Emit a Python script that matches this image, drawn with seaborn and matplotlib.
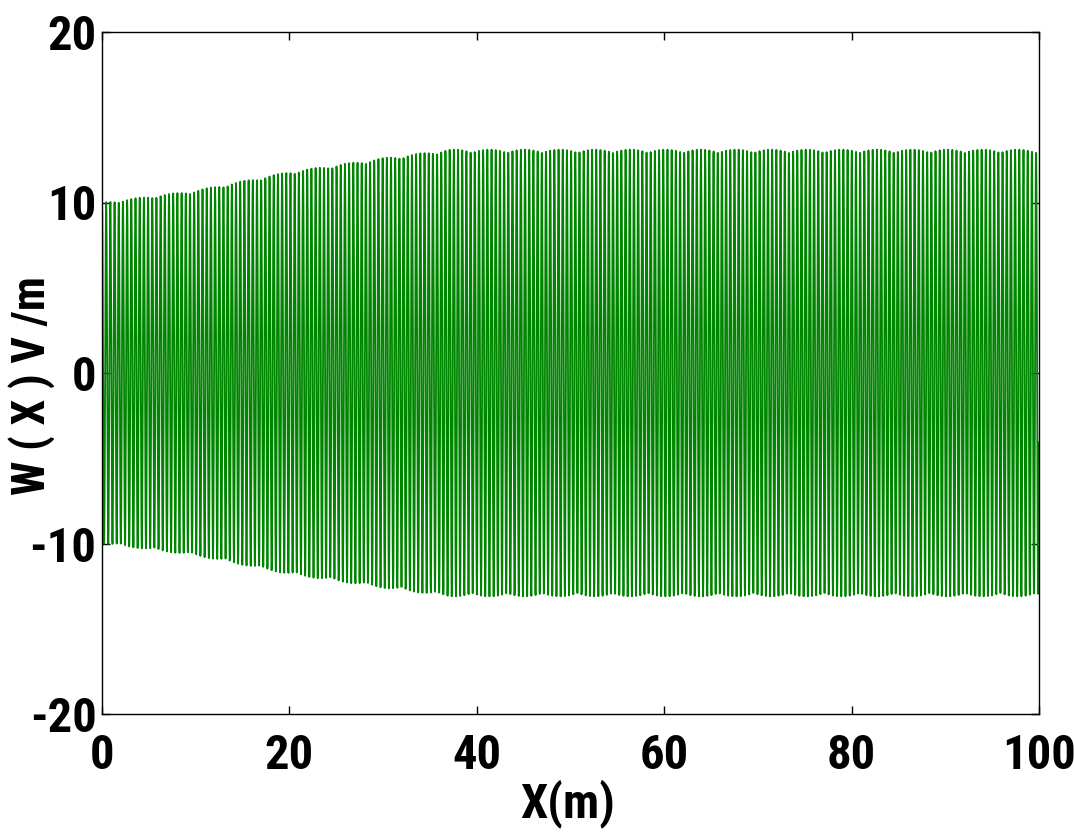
import numpy as np
import pandas as pd
import matplotlib
matplotlib.use("Agg")
import matplotlib.pyplot as plt
from matplotlib import font_manager
import seaborn as sns

# Envelope of the oscillation (x in m, amplitude in V/m)
env_x = [0, 10, 20, 30, 37, 100]
env_amp = [10.0, 10.7, 11.8, 12.6, 13.1, 13.1]
cycles_per_m = 2.237
n_samples = 4001

x_ticks = [0, 20, 40, 60, 80, 100]
y_ticks = [-20, -10, 0, 10, 20]

x = np.linspace(0, 100, n_samples)
amp = np.interp(x, env_x, env_amp)
w = amp * np.cos(2 * np.pi * cycles_per_m * x)
df = pd.DataFrame({"x": x, "w": w})

sns.set_theme(style="white")

names = {f.name for f in font_manager.fontManager.ttflist}
narrow = None
for cand in ['Liberation Sans Narrow', 'Arial Narrow', 'Roboto Condensed',
             'Noto Sans Condensed', 'Open Sans Condensed', 'DejaVu Sans Condensed']:
    if cand in names:
        narrow = cand
        break
if narrow is not None:
    fam = [narrow, 'DejaVu Sans']
    fs = 35
else:
    fam = ['DejaVu Sans']
    fs = 31
plt.rcParams['font.family'] = fam
plt.rcParams['font.weight'] = 'bold'
plt.rcParams['font.stretch'] = 'condensed'

fig = plt.figure(figsize=(10.74, 8.36), dpi=100)
ax = fig.add_axes([102/1074, 1 - 714/836, (1039 - 102)/1074, (714 - 32)/836])

sns.lineplot(data=df, x="x", y="w", ax=ax, color=(0, 0.52, 0), linewidth=1.3,
             estimator=None, sort=False)

ax.set_xlim(0, 100)
ax.set_ylim(-20, 20)
ax.set_xticks(x_ticks)
ax.set_yticks(y_ticks)
ax.set_xticklabels([str(t) for t in x_ticks], fontsize=fs, fontweight='bold')
ax.set_yticklabels([str(t) for t in y_ticks], fontsize=fs, fontweight='bold')
ax.tick_params(direction='in', length=6, width=1, top=True, right=True,
               bottom=True, left=True, colors='black')
ax.tick_params(axis='x', pad=14)
ax.tick_params(axis='y', pad=4)
for s in ax.spines.values():
    s.set_visible(True)
    s.set_color('black')
    s.set_linewidth(1)

ax.set_xlabel("X(m)", fontsize=fs, fontweight='bold', color='black')
ax.set_ylabel("W ( X ) V /m", fontsize=fs - 2, fontweight='bold', color='black')
ax.xaxis.set_label_coords(0.497, -0.095)
ax.yaxis.set_label_coords(-0.05, 0.482)
ax.grid(False)

fig.savefig("out.png", dpi=100, facecolor='white')
